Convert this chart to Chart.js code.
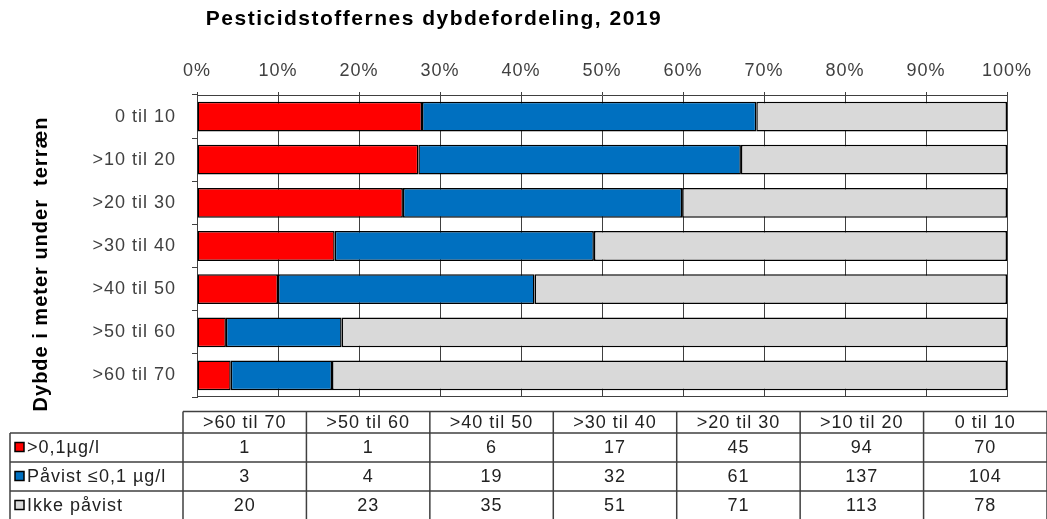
<!DOCTYPE html>
<html>
<head>
<meta charset="utf-8">
<script src="https://cdn.jsdelivr.net/npm/chart.js@4/dist/chart.umd.min.js"></script>
<style>
    body { margin: 0; background: #fff; }
    canvas { display: block; }
</style>
</head>
<body>
<canvas id="depthChart" width="1047" height="519"></canvas>
<script>
// Depth intervals, in the order used by the table (deepest first)
const depths = ['>60 til 70', '>50 til 60', '>40 til 50', '>30 til 40', '>20 til 30', '>10 til 20', '0 til 10'];

// Number of findings per depth interval
const over01 = [1, 1, 6, 17, 45, 94, 70];
const under01 = [3, 4, 19, 32, 61, 137, 104];
const notFound = [20, 23, 35, 51, 71, 113, 78];

const seriesNames = ['>0,1\u00b5g/l', 'P\u00e5vist \u22640,1 \u00b5g/l', 'Ikke p\u00e5vist'];
const seriesColors = ['#FF0000', '#0070C0', '#D9D9D9'];
const seriesCounts = [over01, under01, notFound];

const chartTitle = 'Pesticidstoffernes dybdefordeling, 2019';
const yTitle = 'Dybde i meter under  terr\u00e6n';

const FONT = '"Liberation Sans", Arial, sans-serif';
const LINE = '#404040';

// Turn counts into shares of the total per depth interval
const totals = depths.map((d, i) => seriesCounts.reduce((s, arr) => s + arr[i], 0));
const toPct = arr => arr.map((v, i) => v / totals[i] * 100);

// Canvas state gets reset when Chart.js sizes the canvas, so re-apply spacing
const spacingPlugin = {
    id: 'spacing',
    beforeUpdate(chart) { chart.ctx.letterSpacing = '1px'; },
    beforeDraw(chart) { chart.ctx.letterSpacing = '1px'; }
};

// Title, rotated axis title, bottom frame line and the data table
const extrasPlugin = {
    id: 'extras',
    afterDraw(chart) {
        const ctx = chart.ctx;
        const area = chart.chartArea;
        ctx.save();

        // bottom frame line
        ctx.strokeStyle = LINE;
        ctx.lineWidth = 1;
        ctx.beginPath();
        ctx.moveTo(area.left, Math.round(area.bottom) - 0.5);
        ctx.lineTo(area.right, Math.round(area.bottom) - 0.5);
        ctx.stroke();

        // chart title
        ctx.letterSpacing = '1.5px';
        ctx.fillStyle = '#000';
        ctx.font = 'bold 21px ' + FONT;
        ctx.textAlign = 'center';
        ctx.textBaseline = 'middle';
        ctx.fillText(chartTitle, 434, 19);

        // y axis title
        ctx.save();
        ctx.letterSpacing = '1px';
        ctx.translate(41, 264);
        ctx.rotate(-Math.PI / 2);
        ctx.font = 'bold 20px ' + FONT;
        ctx.fillText(yTitle, 0, 0);
        ctx.restore();

        // data table
        const left = 10, colStart = 183, right = 1047;
        const colW = (right - colStart) / depths.length;
        const headTop = 411.5, headBot = 433, rowH = 29;
        const bottom = headBot + rowH * seriesNames.length;

        ctx.strokeStyle = LINE;
        ctx.lineWidth = 1.5;
        ctx.beginPath();
        ctx.moveTo(colStart, headTop);
        ctx.lineTo(right, headTop);
        for (let r = 0; r <= seriesNames.length; r++) {
            ctx.moveTo(left, headBot + r * rowH);
            ctx.lineTo(right, headBot + r * rowH);
        }
        ctx.moveTo(left, headBot);
        ctx.lineTo(left, bottom);
        for (let c = 0; c <= depths.length; c++) {
            const x = colStart + c * colW;
            ctx.moveTo(x, headTop);
            ctx.lineTo(x, bottom);
        }
        ctx.stroke();

        ctx.letterSpacing = '1px';
        ctx.font = '18px ' + FONT;
        ctx.fillStyle = '#222';
        ctx.textAlign = 'center';
        depths.forEach((d, c) => {
            ctx.fillText(d, colStart + (c + 0.5) * colW, (headTop + headBot) / 2 + 1);
        });
        seriesCounts.forEach((arr, r) => {
            const y = headBot + (r + 0.5) * rowH + 1;
            arr.forEach((v, c) => {
                ctx.fillText(String(v), colStart + (c + 0.5) * colW, y);
            });
        });

        ctx.textAlign = 'left';
        seriesNames.forEach((name, r) => {
            const y = headBot + (r + 0.5) * rowH;
            ctx.fillStyle = seriesColors[r];
            ctx.fillRect(15, y - 5, 9, 9);
            ctx.strokeStyle = '#000';
            ctx.lineWidth = 1.5;
            ctx.strokeRect(15, y - 5, 9, 9);
            ctx.fillStyle = '#222';
            ctx.fillText(name, 27, y + 1);
        });

        ctx.restore();
    }
};

new Chart(document.getElementById('depthChart'), {
    type: 'bar',
    data: {
        labels: depths,
        datasets: seriesNames.map((name, i) => ({
            label: name,
            data: toPct(seriesCounts[i]),
            backgroundColor: seriesColors[i],
            borderColor: '#000',
            borderWidth: 1.5,
            borderSkipped: false,
            barPercentage: 0.69,
            categoryPercentage: 1
        }))
    },
    options: {
        indexAxis: 'y',
        responsive: false,
        animation: false,
        devicePixelRatio: 1,
        layout: {
            padding: { top: 38, left: 0, right: 40, bottom: 122 }
        },
        plugins: {
            legend: { display: false },
            title: { display: false },
            tooltip: { enabled: false }
        },
        scales: {
            x: {
                position: 'top',
                stacked: true,
                min: 0,
                max: 100,
                ticks: {
                    stepSize: 10,
                    padding: 10,
                    color: LINE,
                    font: { family: FONT, size: 18 },
                    callback: v => v + '%'
                },
                grid: { color: LINE, lineWidth: 1, tickLength: 3 },
                border: { color: LINE, width: 1 },
                afterFit: scale => { scale.height = 57; }
            },
            y: {
                stacked: true,
                reverse: true,
                ticks: {
                    padding: 16,
                    color: LINE,
                    font: { family: FONT, size: 18 }
                },
                grid: { drawOnChartArea: false, color: LINE, tickLength: 5, offset: true },
                border: { color: LINE, width: 1 },
                afterFit: scale => { scale.width = 197; }
            }
        }
    },
    plugins: [spacingPlugin, extrasPlugin]
});
</script>
</body>
</html>
